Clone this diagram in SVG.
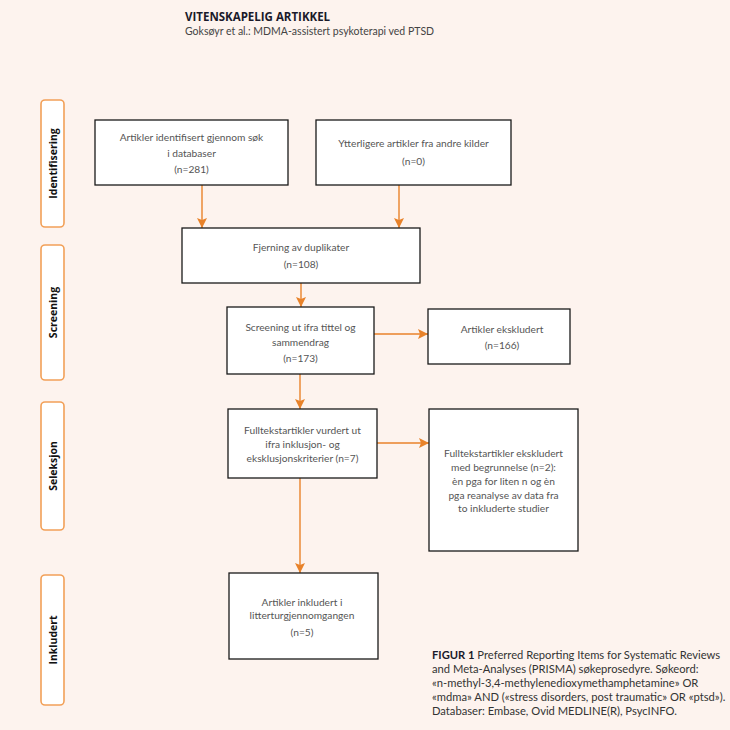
<svg xmlns="http://www.w3.org/2000/svg" width="730" height="730" viewBox="0 0 730 730">
<style>
.bg{fill:#fdf3ee}
.box{fill:#ffffff;stroke:#1a1a1a;stroke-width:1.3}
.side{fill:#ffffff;stroke:#f2a058;stroke-width:1.6}
.t{font-family:Lato,"Open Sans",sans-serif;font-size:10.2px;fill:#555555;text-anchor:middle}
.s{font-family:"Open Sans",Lato,sans-serif;font-size:10.5px;font-weight:bold;fill:#111111;text-anchor:middle}
.c{stroke:#e8822a;stroke-width:1.4;fill:none}
.cap{font-family:Lato,"Open Sans",sans-serif;font-size:11.2px;fill:#333333}
</style>
<defs>
<marker id="ah2" viewBox="0 0 10 10" refX="10" refY="5" markerWidth="10" markerHeight="10" markerUnits="userSpaceOnUse" orient="auto">
<path d="M0,0 L10,5 L0,10 L2,5 Z" fill="#e8822a"/>
</marker>
</defs>
<rect class="bg" x="0" y="0" width="730" height="730"/>
<g id="header">
<text x="185" y="21" style="font-family:'Open Sans',Lato,sans-serif;font-size:11.5px;font-weight:bold;fill:#1a1a2a">VITENSKAPELIG ARTIKKEL</text>
<text x="185" y="35" style="font-family:Lato,'Open Sans',sans-serif;font-size:10.5px;fill:#444444">Goksøyr et al.: MDMA-assistert psykoterapi ved PTSD</text>
</g>
<g id="phase-identifisering">
<rect class="side" x="41" y="100" width="23" height="127" rx="4"/>
<text class="s" transform="translate(56.5,163.5) rotate(-90)">Identifisering</text>
</g>
<g id="phase-screening">
<rect class="side" x="41" y="245" width="23" height="135" rx="4"/>
<text class="s" transform="translate(56.5,312.5) rotate(-90)">Screening</text>
</g>
<g id="phase-seleksjon">
<rect class="side" x="41" y="402" width="23" height="128" rx="4"/>
<text class="s" transform="translate(56.5,466) rotate(-90)">Seleksjon</text>
</g>
<g id="phase-inkludert">
<rect class="side" x="41" y="575" width="23" height="130" rx="4"/>
<text class="s" transform="translate(56.5,640) rotate(-90)">Inkludert</text>
</g>
<g id="connectors">
<line class="c" x1="202" y1="185" x2="202" y2="228" marker-end="url(#ah2)"/>
<line class="c" x1="399" y1="185" x2="399" y2="228" marker-end="url(#ah2)"/>
<line class="c" x1="301" y1="283" x2="301" y2="307" marker-end="url(#ah2)"/>
<line class="c" x1="374" y1="334" x2="428" y2="334" marker-end="url(#ah2)"/>
<line class="c" x1="300" y1="374" x2="300" y2="409" marker-end="url(#ah2)"/>
<line class="c" x1="377" y1="443" x2="429" y2="443" marker-end="url(#ah2)"/>
<line class="c" x1="300" y1="478" x2="300" y2="573" marker-end="url(#ah2)"/>
</g>
<g id="n-database">
<rect class="box" x="95" y="120" width="193" height="65"/>
<text class="t" x="191.5" y="141">Artikler identifisert gjennom søk</text>
<text class="t" x="191.5" y="157">i databaser</text>
<text class="t" x="191.5" y="173">(n=281)</text>
</g>
<g id="n-andre">
<rect class="box" x="316" y="120" width="195" height="65"/>
<text class="t" x="413.5" y="147">Ytterligere artikler fra andre kilder</text>
<text class="t" x="413.5" y="165">(n=0)</text>
</g>
<g id="n-fjerning">
<rect class="box" x="182" y="228" width="238" height="55"/>
<text class="t" x="301" y="251">Fjerning av duplikater</text>
<text class="t" x="301" y="268">(n=108)</text>
</g>
<g id="n-screening">
<rect class="box" x="227" y="307" width="147" height="67"/>
<text class="t" x="300.5" y="331">Screening ut ifra tittel og</text>
<text class="t" x="300.5" y="346">sammendrag</text>
<text class="t" x="300.5" y="362">(n=173)</text>
</g>
<g id="n-ekskludert">
<rect class="box" x="428" y="309" width="142" height="55"/>
<text class="t" x="502" y="333">Artikler ekskludert</text>
<text class="t" x="502" y="349">(n=166)</text>
</g>
<g id="n-fulltekst">
<rect class="box" x="228" y="409" width="149" height="69"/>
<text class="t" x="302.5" y="434">Fulltekstartikler vurdert ut</text>
<text class="t" x="302.5" y="448">ifra inklusjon- og</text>
<text class="t" x="302.5" y="462">eksklusjonskriterier (n=7)</text>
</g>
<g id="n-fulltekst-ekskludert">
<rect class="box" x="429" y="409" width="149" height="142"/>
<text class="t" x="503.5" y="457">Fulltekstartikler ekskludert</text>
<text class="t" x="503.5" y="471">med begrunnelse (n=2):</text>
<text class="t" x="503.5" y="485">èn pga for liten n og èn</text>
<text class="t" x="503.5" y="499">pga reanalyse av data fra</text>
<text class="t" x="503.5" y="512">to inkluderte studier</text>
</g>
<g id="n-inkludert">
<rect class="box" x="229" y="573" width="149" height="86"/>
<text class="t" x="302" y="606">Artikler inkludert i</text>
<text class="t" x="302" y="619">litterturgjennomgangen</text>
<text class="t" x="302" y="636">(n=5)</text>
</g>
<g id="caption">
<text class="cap" x="432" y="659"><tspan font-weight="bold" fill="#1a1a2a">FIGUR 1</tspan> Preferred Reporting Items for Systematic Reviews</text>
<text class="cap" x="432" y="673">and Meta-Analyses (PRISMA) søkeprosedyre. Søkeord:</text>
<text class="cap" x="432" y="687">«n-methyl-3,4-methylenedioxymethamphetamine» OR</text>
<text class="cap" x="432" y="701">«mdma» AND («stress disorders, post traumatic» OR «ptsd»).</text>
<text class="cap" x="432" y="715">Databaser: Embase, Ovid MEDLINE(R), PsycINFO.</text>
</g>
</svg>
